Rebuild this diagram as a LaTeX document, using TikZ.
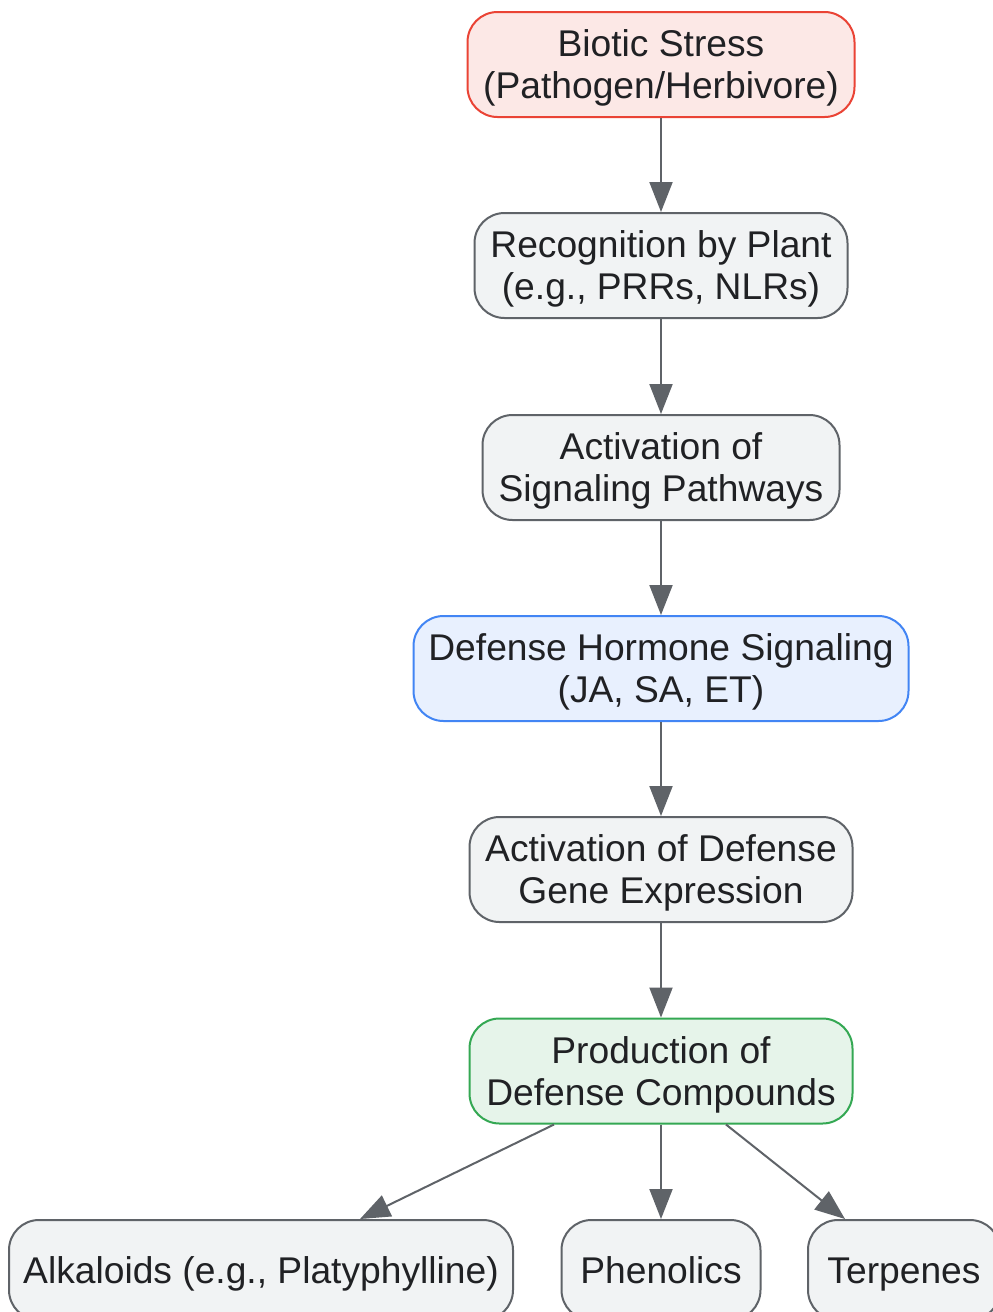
\documentclass[tikz,border=0pt]{standalone}
\usepackage{fontspec}
\setmainfont{Liberation Sans}
\usetikzlibrary{arrows.meta,calc}

\definecolor{edgegray}{HTML}{5F6368}
\definecolor{boxgray}{HTML}{F1F3F4}
\definecolor{txtgray}{HTML}{202124}
\definecolor{stressred}{HTML}{EA4335}
\definecolor{stressfill}{HTML}{FCE8E6}
\definecolor{hormblue}{HTML}{4285F4}
\definecolor{hormfill}{HTML}{E8F0FE}
\definecolor{prodgreen}{HTML}{34A853}
\definecolor{prodfill}{HTML}{E6F4EA}

\tikzset{
  stepbox/.style={draw=edgegray,fill=boxgray,line width=1pt,rounded corners=15pt,
    minimum height=52.5pt,inner sep=0pt,align=center,text=txtgray,text depth=0pt,
    font=\fontsize{18.6}{21}\selectfont},
  leafbox/.style={stepbox,minimum height=50pt,text height=13.3pt,text depth=0pt},
  flow/.style={draw=edgegray,line width=1pt,-{Triangle[length=15pt,width=11.5pt]}}
}

\begin{document}
\begin{tikzpicture}[x=0.5pt,y=-0.5pt]
    \useasboundingbox[fill=white] (0,0) rectangle (992,1312);
    \node[stepbox,draw=stressred,fill=stressfill,minimum width=193.5pt] (stress) at (661,64.5) {Biotic Stress\\(Pathogen/Herbivore)};
    \node[stepbox,minimum width=186.5pt] (recog) at (661,265.5) {Recognition by Plant\\(e.g., PRRs, NLRs)};
    \node[stepbox,minimum width=178.5pt] (signal) at (661,467.5) {Activation of\\Signaling Pathways};
    \node[stepbox,draw=hormblue,fill=hormfill,minimum width=247.5pt] (hormone) at (661,668.5) {Defense Hormone Signaling\\(JA, SA, ET)};
    \node[stepbox,minimum width=191.5pt] (gene) at (661,869.5) {Activation of Defense\\Gene Expression};
    \node[stepbox,draw=prodgreen,fill=prodfill,minimum width=191.5pt] (prod) at (661,1071) {Production of\\Defense Compounds};
    \node[leafbox,minimum width=252pt] (alk) at (261,1270) {Alkaloids (e.g., Platyphylline)};
    \node[leafbox,minimum width=99.5pt] (phen) at (661,1270) {Phenolics};
    \node[leafbox,minimum width=96pt] (terp) at (904,1270) {Terpenes};

    \draw[flow] (stress) -- (recog);
    \draw[flow] (recog) -- (signal);
    \draw[flow] (signal) -- (hormone);
    \draw[flow] (hormone) -- (gene);
    \draw[flow] (gene) -- (prod);
    \draw[flow] ($(prod.south)+(-107,0)$) -- ($(alk.north)+(99,0)$);
    \draw[flow] (prod.south) -- (phen.north);
    \draw[flow] ($(prod.south)+(65,0)$) -- ($(terp.north)+(-59,0)$);
\end{tikzpicture}
\end{document}
